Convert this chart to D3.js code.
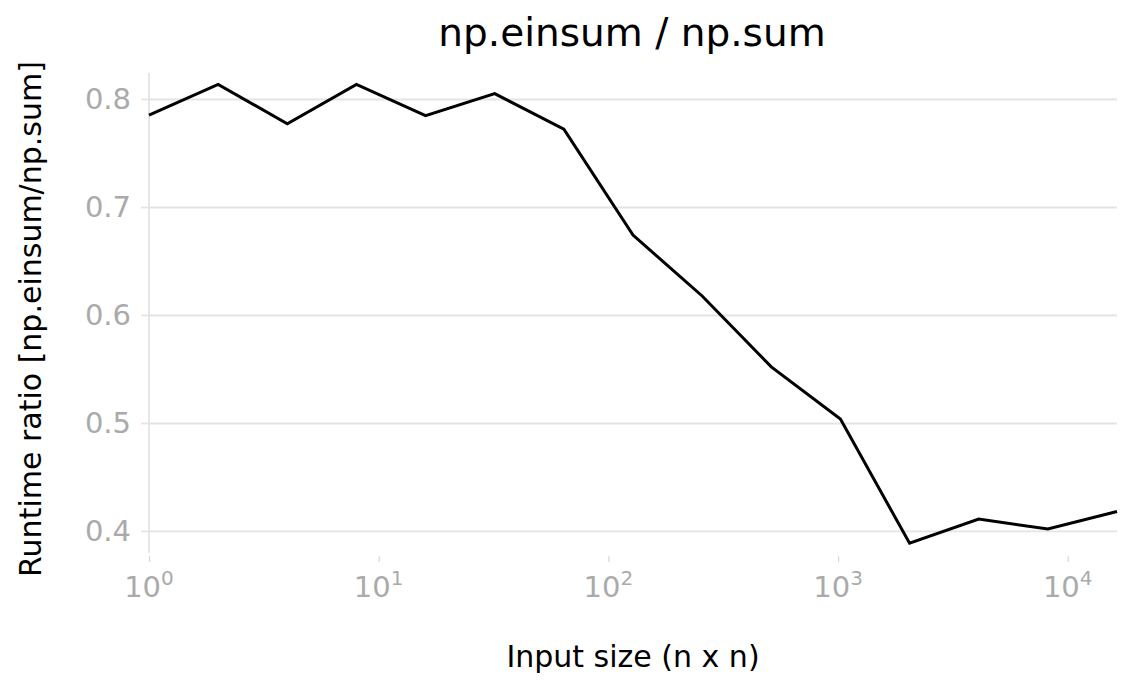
<!DOCTYPE html>
<html>
<head>
<meta charset="utf-8">
<script src="https://cdn.jsdelivr.net/npm/d3@7"></script>
<style>
  html, body { margin: 0; padding: 0; background: #fff; }
  svg { display: block; font-family: "DejaVu Sans", sans-serif; }
</style>
</head>
<body>
<svg id="chart" width="1132" height="689"></svg>
<script>
// ---- data ----
const inputSizes = [1, 2, 4, 8, 16, 32, 64, 128, 256, 512, 1024, 2048, 4096, 8192, 16384];
const ratios = [0.785, 0.8136, 0.777, 0.8136, 0.7846, 0.805, 0.772, 0.674, 0.6176, 0.552, 0.5037, 0.3886, 0.411, 0.4019, 0.418];
const xTickValues = [1, 10, 100, 1000, 10000];
const xTickExponents = ["0", "1", "2", "3", "4"];
const yTickValues = [0.4, 0.5, 0.6, 0.7, 0.8];
const xDomain = [1, 16384];
const yDomain = [0.3796, 0.8241];
const titleText = "np.einsum / np.sum";
const xLabelText = "Input size (n x n)";
const yLabelText = "Runtime ratio [np.einsum/np.sum]";

// ---- layout ----
const plotLeft = 149, plotRight = 1117, plotTop = 73, plotBottom = 553;
const gridColor = "#e4e4e4";
const tickTextColor = "#aaaaaa";

const svg = d3.select("#chart");
const x = d3.scaleLog().domain(xDomain).range([plotLeft, plotRight]);
const y = d3.scaleLinear().domain(yDomain).range([plotBottom, plotTop]);

// gridlines
const grid = svg.append("g").attr("transform", `translate(${plotLeft},0)`)
  .call(d3.axisLeft(y).tickValues(yTickValues).tickSize(-(plotRight - plotLeft)).tickFormat(""));
grid.select(".domain").remove();
grid.selectAll(".tick line").attr("stroke", gridColor).attr("stroke-width", 1.8);

// y axis ticks + labels
const yAxis = svg.append("g").attr("transform", `translate(${plotLeft},0)`)
  .call(d3.axisLeft(y).tickValues(yTickValues).tickSize(8).tickPadding(10).tickFormat(d3.format(".1f")));
yAxis.select(".domain").remove();
yAxis.selectAll(".tick line").attr("stroke", gridColor).attr("stroke-width", 1.8);
yAxis.selectAll(".tick text").attr("fill", tickTextColor)
  .style("font-family", "'DejaVu Sans', sans-serif").style("font-size", "29px");

// left spine
svg.append("line").attr("x1", plotLeft).attr("x2", plotLeft).attr("y1", plotTop).attr("y2", plotBottom)
  .attr("stroke", gridColor).attr("stroke-width", 1.8);

// x axis ticks
const xAxis = svg.append("g").attr("transform", `translate(0,556)`)
  .call(d3.axisBottom(x).tickValues(xTickValues).tickSize(6).tickFormat(""));
xAxis.select(".domain").remove();
xAxis.selectAll(".tick line").attr("stroke", "#d8d8d8").attr("stroke-width", 1.2);
xAxis.selectAll(".tick text").remove();

// x tick labels with superscripts
const xl = svg.append("g");
xTickValues.forEach((v, i) => {
  const t = xl.append("text")
    .attr("x", x(v)).attr("y", 597)
    .attr("text-anchor", "middle")
    .attr("fill", tickTextColor)
    .style("font-size", "29px");
  t.append("tspan").text("10");
  t.append("tspan").attr("dy", -12).style("font-size", "20px").text(xTickExponents[i]);
});

// data line
const line = d3.line().x((d, i) => x(inputSizes[i])).y(d => y(d));
svg.append("path").datum(ratios)
  .attr("d", line)
  .attr("fill", "none")
  .attr("stroke", "#000")
  .attr("stroke-width", 3)
  .attr("stroke-linejoin", "miter");

// title
svg.append("text").attr("x", (plotLeft + plotRight) / 2 - 1).attr("y", 46)
  .attr("text-anchor", "middle").attr("fill", "#000")
  .style("font-size", "39px").text(titleText);

// x label
svg.append("text").attr("x", (plotLeft + plotRight) / 2).attr("y", 667)
  .attr("text-anchor", "middle").attr("fill", "#000")
  .style("font-size", "30px").text(xLabelText);

// y label
svg.append("text")
  .attr("transform", `translate(41,${(plotTop + plotBottom) / 2 + 6}) rotate(-90)`)
  .attr("text-anchor", "middle").attr("fill", "#000")
  .style("font-size", "30px").text(yLabelText);
</script>
</body>
</html>
